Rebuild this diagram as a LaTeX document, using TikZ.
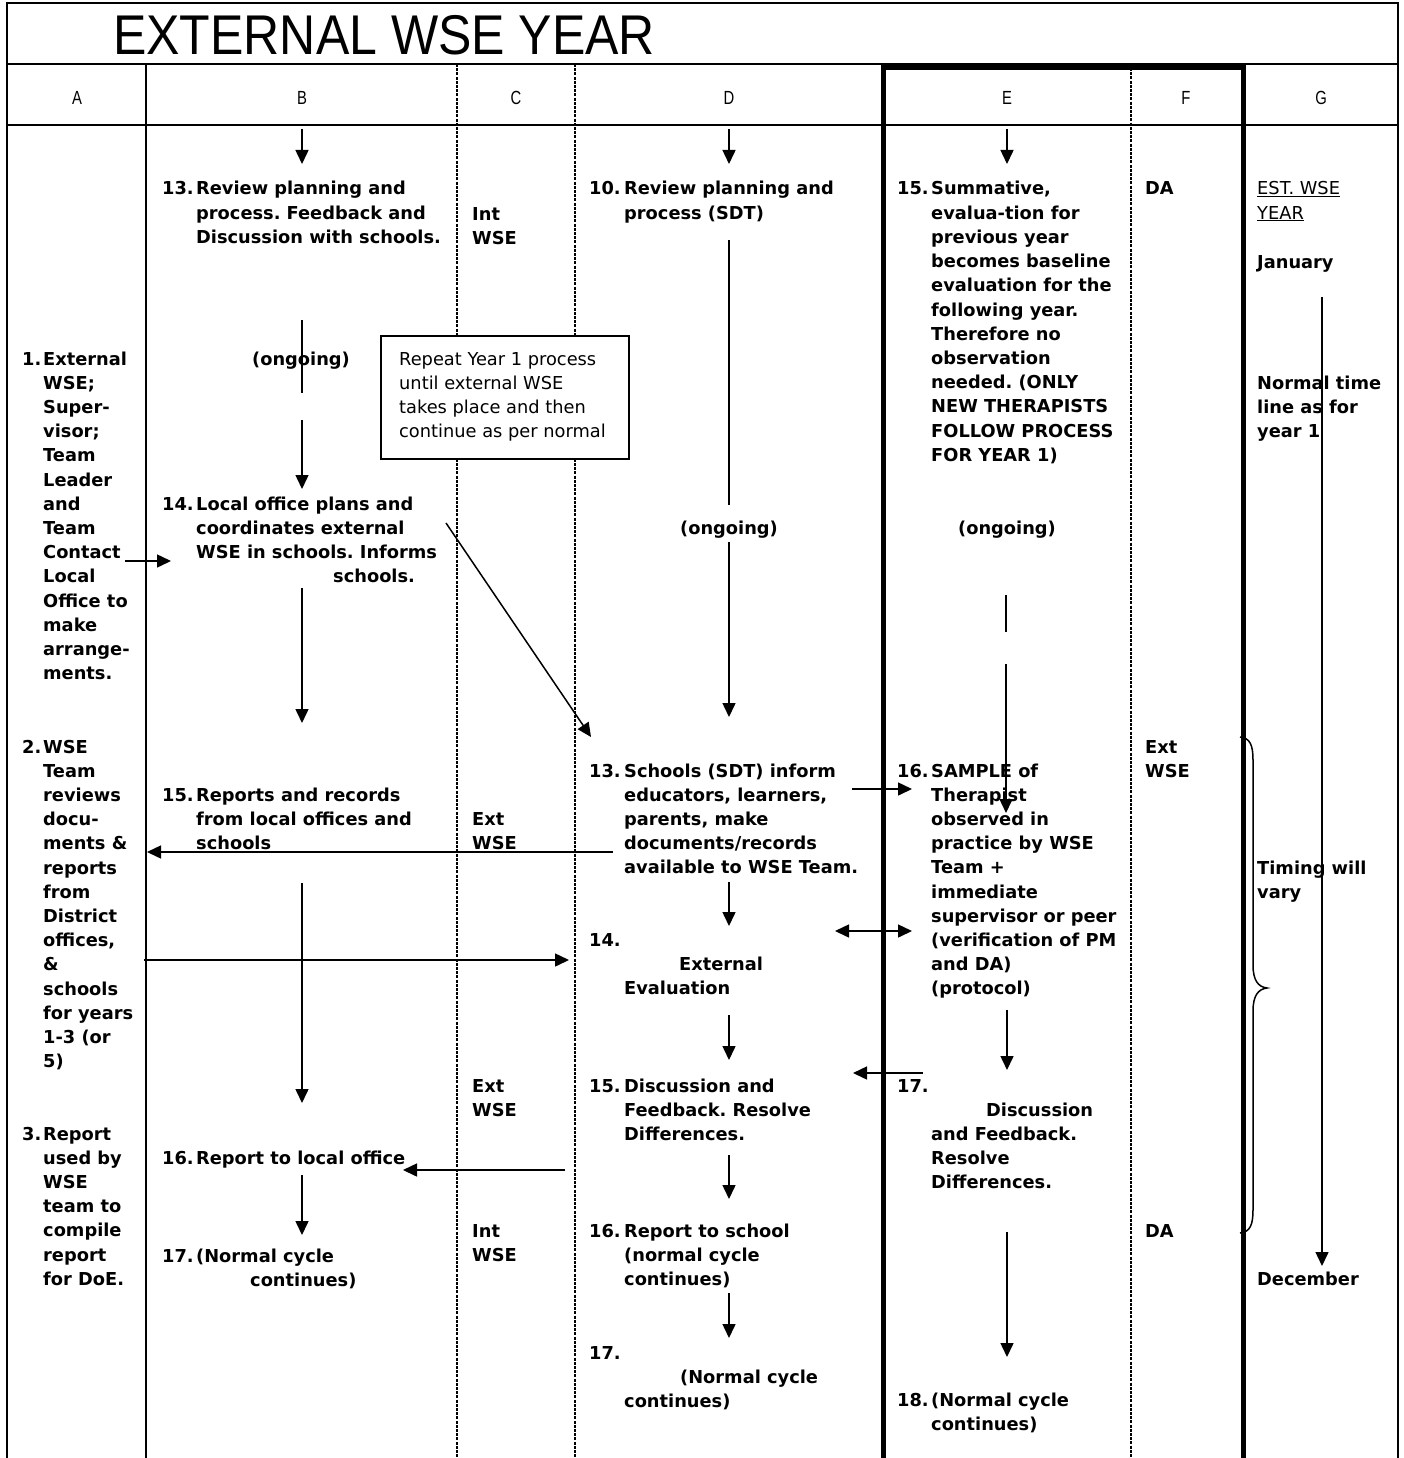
\documentclass[tikz,border=0pt]{standalone}
\usepackage{graphicx}
\usepackage{fontspec}
\setmainfont{DejaVu Sans}
\newfontfamily\arialf{Liberation Sans}
\usetikzlibrary{arrows.meta}
\frenchspacing
\newcommand\bodysz{\fontsize{17.8pt}{24.2pt}\selectfont\frenchspacing}
\newcommand\itemblk[3]{\makebox[#1][l]{#2}\begin{tabular}[t]{@{}l@{}}#3\end{tabular}}
\newcommand\lines[1]{\begin{tabular}[t]{@{}l@{}}#1\end{tabular}}
\tikzset{
  txt/.style={anchor=base west, inner sep=0pt, font=\bodysz\bfseries},
  ctxt/.style={anchor=base, inner sep=0pt, font=\bodysz\bfseries},
  rtxt/.style={anchor=base west, inner sep=0pt, font=\bodysz},
  arr/.style={line width=1.5pt, -{Triangle[length=14pt,width=13pt]}},
  dblarr/.style={line width=1.5pt, {Triangle[length=14pt,width=13pt]}-{Triangle[length=14pt,width=13pt]}},
  ln/.style={line width=1.5pt},
  frame/.style={line width=2pt},
  heavy/.style={line width=5pt, line join=miter},
  dsh/.style={line width=1.8pt, dash pattern=on 3pt off 1.2pt},
  hdr/.style={anchor=base, inner sep=0pt, font=\arialf\fontsize{19pt}{22pt}\selectfont},
}
\begin{document}
\begin{tikzpicture}[x=1pt,y=-1pt]
\useasboundingbox (0,0) rectangle (1404,1458);
% ---------- frame and columns ----------
\draw[frame] (7,1458) -- (7,3) -- (1398,3) -- (1398,1458);
\draw[frame] (7,64) -- (1398,64);
\draw[frame] (7,125) -- (1398,125);
\draw[frame] (146,64) -- (146,1458);
\draw[dsh] (457,64) -- (457,1458);
\draw[dsh] (575,64) -- (575,1458);
\draw[dsh] (1131,68) -- (1131,1458);
\draw[heavy] (883,1458) -- (883,68) -- (1243,68) -- (1243,1458);
% ---------- title and header ----------
\node[anchor=base west, inner sep=0pt] (title) at (113,55)
  {\scalebox{0.893}[1]{\arialf\fontsize{56pt}{60pt}\selectfont EXTERNAL WSE YEAR}};
\node[hdr] (hA) at (77,105) {\scalebox{0.78}[1]{A}};
\node[hdr] (hB) at (302,105) {\scalebox{0.78}[1]{B}};
\node[hdr] (hC) at (516,105) {\scalebox{0.78}[1]{C}};
\node[hdr] (hD) at (729,105) {\scalebox{0.78}[1]{D}};
\node[hdr] (hE) at (1007,105) {\scalebox{0.78}[1]{E}};
\node[hdr] (hF) at (1186,105) {\scalebox{0.78}[1]{F}};
\node[hdr] (hG) at (1321,105) {\scalebox{0.78}[1]{G}};
% ---------- column A ----------
\node[txt] (a1) at (22,365) {\itemblk{21pt}{1.}{External\\WSE;\\Super-\\visor;\\Team\\Leader\\and\\Team\\Contact\\Local\\Office to\\make\\arrange-\\ments.}};
\node[txt] (a2) at (22,753) {\itemblk{21pt}{2.}{WSE\\Team\\reviews\\docu-\\ments \&\\reports\\from\\District\\offices,\\\&\\schools\\for years\\1-3 (or\\5)}};
\node[txt] (a3) at (22,1140) {\itemblk{21pt}{3.}{Report\\used by\\WSE\\team to\\compile\\report\\for DoE.}};
% ---------- column B ----------
\node[txt] (b13) at (162,195) {\itemblk{34pt}{13.}{Review planning and\\process. Feedback and\\Discussion with schools.}};
\node[ctxt] (bon) at (301,365) {(ongoing)};
\node[txt] (b14) at (162,510) {\itemblk{34pt}{14.}{Local office plans and\\coordinates external\\WSE in schools. Informs\\\hspace*{137pt}schools.}};
\node[txt] (b15) at (162,801) {\itemblk{34pt}{15.}{Reports and records\\from local offices and\\schools}};
\node[txt] (b16) at (162,1164) {\itemblk{34pt}{16.}{Report to local office}};
\node[txt] (b17) at (162,1262) {\itemblk{34pt}{17.}{(Normal cycle\\\hspace*{54pt}continues)}};
% ---------- column C ----------
\node[txt] (c1) at (472,220) {\lines{Int\\WSE}};
\node[txt] (c2) at (472,825) {\lines{Ext\\WSE}};
\node[txt] (c3) at (472,1092) {\lines{Ext\\WSE}};
\node[txt] (c4) at (472,1237) {\lines{Int\\WSE}};
% ---------- column D ----------
\node[txt] (d10) at (589,195) {\itemblk{35pt}{10.}{Review planning and\\process (SDT)}};
\node[ctxt] (don) at (729,534) {(ongoing)};
\node[txt] (d13) at (589,777) {\itemblk{35pt}{13.}{Schools (SDT) inform\\educators, learners,\\parents, make\\documents/records\\available to WSE Team.}};
\node[txt] (d14) at (589,946) {\itemblk{35pt}{14.}{\\\hspace*{55pt}External\\Evaluation}};
\node[txt] (d15) at (589,1092) {\itemblk{35pt}{15.}{Discussion and\\Feedback. Resolve\\Differences.}};
\node[txt] (d16) at (589,1237) {\itemblk{35pt}{16.}{Report to school\\(normal cycle\\continues)}};
\node[txt] (d17) at (589,1359) {\itemblk{35pt}{17.}{\\\hspace*{56pt}(Normal cycle\\continues)}};
% ---------- column E ----------
\node[txt] (e15) at (897,195) {\itemblk{34pt}{15.}{Summative,\\evalua-tion for\\previous year\\becomes baseline\\evaluation for the\\following year.\\Therefore no\\observation\\needed. (ONLY\\NEW THERAPISTS\\FOLLOW PROCESS\\FOR YEAR 1)}};
\node[ctxt] (eon) at (1007,534) {(ongoing)};
\node[txt] (e16) at (897,777) {\itemblk{34pt}{16.}{SAMPLE of\\Therapist\\observed in\\practice by WSE\\Team +\\immediate\\supervisor or peer\\(verification of PM\\and DA)\\(protocol)}};
\node[txt] (e17) at (897,1092) {\itemblk{34pt}{17.}{\\\hspace*{55pt}Discussion\\and Feedback.\\Resolve\\Differences.}};
\node[txt] (e18) at (897,1406) {\itemblk{34pt}{18.}{(Normal cycle\\continues)}};
% ---------- column F ----------
\node[txt] (f1) at (1145,195) {DA};
\node[txt] (f2) at (1145,753) {\lines{Ext\\WSE}};
\node[txt] (f3) at (1145,1237) {DA};
% ---------- column G ----------
\node[rtxt] (g1) at (1257,195) {\lines{\underline{EST. WSE}\\\underline{YEAR}}};
\node[txt] (g2) at (1257,268) {January};
\node[txt] (g3) at (1257,389) {\lines{Normal time\\line as for\\year 1}};
\node[txt] (g4) at (1257,874) {\lines{Timing will\\vary}};
\node[txt] (g5) at (1257,1285) {December};
% ---------- note box ----------
\node[draw, fill=white, line width=1.5pt, anchor=north west, minimum width=248pt, minimum height=123pt, inner sep=0pt] (rep) at (380,335) {};
\node[rtxt] (reptxt) at (399,365) {\lines{Repeat Year 1 process\\until external WSE\\takes place and then\\continue as per normal}};
% ---------- connector end points ----------
\coordinate (B0s) at (302,129);  \coordinate (B0e) at (302,164);
\coordinate (B1s) at (302,320);  \coordinate (B1e) at (302,393);
\coordinate (B2s) at (302,420);  \coordinate (B2e) at (302,489);
\coordinate (A1s) at (125,561);  \coordinate (A1e) at (171,561);
\coordinate (B3s) at (302,588);  \coordinate (B3e) at (302,723);
\coordinate (B4s) at (446,523);  \coordinate (B4e) at (591,737);
\coordinate (D5s) at (613,852);  \coordinate (A5e) at (147,852);
\coordinate (A6s) at (144,960);  \coordinate (D6e) at (569,960);
\coordinate (B7s) at (302,883);  \coordinate (B7e) at (302,1103);
\coordinate (D8s) at (565,1170); \coordinate (B8e) at (403,1170);
\coordinate (B9s) at (302,1175); \coordinate (B9e) at (302,1235);
\coordinate (D0s) at (729,129);  \coordinate (D0e) at (729,164);
\coordinate (D1s) at (729,240);  \coordinate (D1e) at (729,505);
\coordinate (D2s) at (729,542);  \coordinate (D2e) at (729,717);
\coordinate (D3s) at (852,789);  \coordinate (E3e) at (912,789);
\coordinate (D4s) at (729,882);  \coordinate (D4e) at (729,926);
\coordinate (D5a) at (835,931);  \coordinate (E5b) at (912,931);
\coordinate (D6s) at (729,1015); \coordinate (D6x) at (729,1060);
\coordinate (E7s) at (923,1073); \coordinate (D7e) at (853,1073);
\coordinate (D8a) at (729,1155); \coordinate (D8b) at (729,1199);
\coordinate (D9a) at (729,1293); \coordinate (D9b) at (729,1338);
\coordinate (E0s) at (1007,129); \coordinate (E0e) at (1007,164);
\coordinate (E1s) at (1006,595); \coordinate (E1e) at (1006,632);
\coordinate (E2s) at (1006,664); \coordinate (E2e) at (1006,813);
\coordinate (E3s) at (1007,1010); \coordinate (E3x) at (1007,1070);
\coordinate (E4s) at (1007,1232); \coordinate (E4e) at (1007,1357);
\coordinate (G1s) at (1322,297); \coordinate (G1e) at (1322,1266);
% ---------- connectors ----------
\draw[arr] (B0s) -- (B0e);
\draw[ln]  (B1s) -- (B1e);
\draw[arr] (B2s) -- (B2e);
\draw[arr] (A1s) -- (A1e);
\draw[arr] (B3s) -- (B3e);
\draw[arr] (B4s) -- (B4e);
\draw[arr] (D5s) -- (A5e);
\draw[arr] (A6s) -- (D6e);
\draw[arr] (B7s) -- (B7e);
\draw[arr] (D8s) -- (B8e);
\draw[arr] (B9s) -- (B9e);
\draw[arr] (D0s) -- (D0e);
\draw[ln]  (D1s) -- (D1e);
\draw[arr] (D2s) -- (D2e);
\draw[arr] (D3s) -- (E3e);
\draw[arr] (D4s) -- (D4e);
\draw[dblarr] (D5a) -- (E5b);
\draw[arr] (D6s) -- (D6x);
\draw[arr] (E7s) -- (D7e);
\draw[arr] (D8a) -- (D8b);
\draw[arr] (D9a) -- (D9b);
\draw[arr] (E0s) -- (E0e);
\draw[ln]  (E1s) -- (E1e);
\draw[arr] (E2s) -- (E2e);
\draw[arr] (E3s) -- (E3x);
\draw[arr] (E4s) -- (E4e);
\draw[arr] (G1s) -- (G1e);
% ---------- brace ----------
\draw[line width=1.5pt] (1240,737) .. controls (1250,738) and (1253,745) .. (1253,760)
  -- (1253,965) .. controls (1253,980) and (1258,987) .. (1267,988)
  .. controls (1258,989) and (1253,996) .. (1253,1011)
  -- (1253,1210) .. controls (1253,1225) and (1250,1232) .. (1240,1233);
\end{tikzpicture}
\end{document}
